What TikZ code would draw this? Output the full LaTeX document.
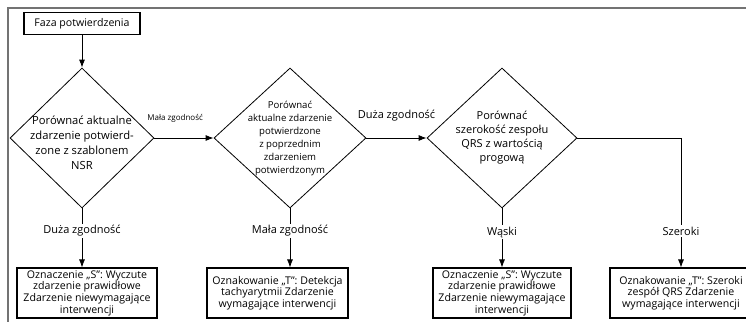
\documentclass[tikz,border=0pt]{standalone}
\usepackage{fontspec}
\setmainfont{Open Sans}
\usetikzlibrary{shapes.geometric, arrows.meta}

\tikzset{
    decide/.style={diamond, draw, line width=0.8pt, align=center,
        inner sep=-16pt, minimum width=150pt, minimum height=140pt},
    outbox/.style={rectangle, draw, line width=1.1pt, align=center,
        inner sep=1pt, minimum width=140pt, minimum height=50pt,
        font=\fontsize{10.6}{11.7}\selectfont},
    flow/.style={line width=0.8pt, -{Latex[length=8pt, width=6pt]}},
    lbl/.style={fill=white, inner sep=1.5pt, font=\fontsize{11}{12}\selectfont},
}

\begin{document}
\begin{tikzpicture}[x=1pt, y=-1pt]
    \useasboundingbox (0,0) rectangle (746,321);
    \clip (0,0) rectangle (746,321);
    \draw[black!55, line width=1.5pt] (8,8) rectangle (775,345);

    % decisions
    \node[outbox, minimum width=116pt, minimum height=22pt] (start) at (82,23.5) {Faza potwierdzenia};
    \node[decide, minimum width=144pt, font=\fontsize{11.2}{15}\selectfont] (nsr) at (82,138)
        {\\[3pt]Porównać aktualne\\zdarzenie potwierd-\\zone z szablonem\\NSR};
    \node[decide, minimum width=152pt, font=\fontsize{9.6}{13}\selectfont] (prev) at (290,138)
        {Porównać\\aktualne zdarzenie\\potwierdzone\\z poprzednim\\zdarzeniem\\potwierdzonym};
    \node[decide, font=\fontsize{11}{14}\selectfont] (qrs) at (502,138)
        {Porównać\\szerokość zespołu\\QRS z wartością\\progową};

    % outcomes
    \node[outbox] (normA) at (87,293)
        {Oznaczenie „S”: Wyczute\\zdarzenie prawidłowe\\Zdarzenie niewymagające\\interwencji};
    \node[outbox, minimum width=141pt] (tachy) at (277.5,293)
        {Oznakowanie „T”: Detekcja\\tachyarytmii Zdarzenie\\wymagające interwencji};
    \node[outbox, minimum width=138pt] (normB) at (502,293)
        {Oznaczenie „S”: Wyczute\\zdarzenie prawidłowe\\Zdarzenie niewymagające\\interwencji};
    \node[outbox, minimum width=142pt] (wide) at (681,293)
        {Oznakowanie „T”: Szeroki\\zespół QRS Zdarzenie\\wymagające interwencji};

    % connectors
    \draw[flow] (nsr.north |- start.south) -- (nsr.north);
    \draw[flow] (nsr.east) -- node[lbl, pos=0.35, above=14pt, font=\fontsize{8}{10}\selectfont] {Mała zgodność} (prev.west);
    \draw[flow] (prev.east) -- node[lbl, above=15pt] {Duża zgodność} (qrs.west);
    \draw[flow] (nsr.south) -- node[lbl, pos=0.38] {Duża zgodność} (nsr.south |- normA.north);
    \draw[flow] (prev.south) -- node[lbl, pos=0.38] {Mała zgodność} (prev.south |- tachy.north);
    \draw[flow] (qrs.south) -- node[lbl, pos=0.4] {Wąski} (qrs.south |- normB.north);
    \draw[flow] (qrs.east) -| node[lbl, pos=0.86] {Szeroki} (wide.north);
\end{tikzpicture}
\end{document}
